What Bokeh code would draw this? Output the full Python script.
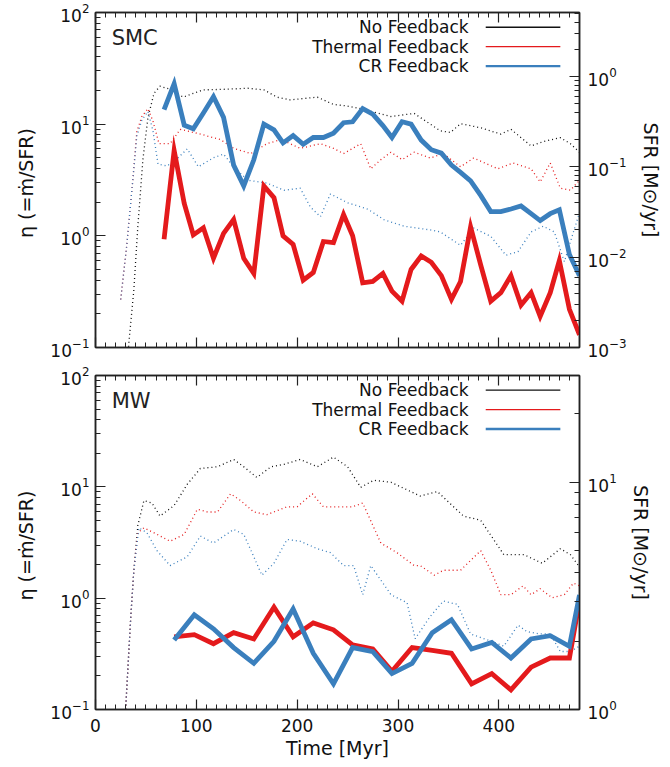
import math
from bokeh.plotting import figure
from bokeh.models import (Range1d, LogAxis, LinearAxis, LogScale, SingleIntervalTicker,
                          FixedTicker, Label)
from bokeh.layouts import column
from bokeh.embed import file_html
from bokeh.resources import INLINE

# ---------------- data ----------------
# SMC: mass loading (thick lines, left axis)
t_smc_eta = [68, 78, 88, 97, 107, 117, 127, 137, 147, 157, 167, 177, 186, 196, 206, 216, 226, 236,
             246, 255, 265, 275, 285, 294, 304, 313, 323, 333, 343, 353, 362, 372, 382, 392, 402,
             412, 422, 432, 441, 451, 460, 470, 480]
eta_smc_cr = [13.5, 23, 9.8, 9.1, 12.6, 17.6, 11.5, 4.3, 2.8, 4.8, 10.0, 8.9, 6.8, 7.9, 6.6, 7.6, 7.6,
              8.3, 10.3, 10.5, 13.8, 12.3, 9.7, 7.6, 10.5, 10.0, 7.2, 5.9, 5.5, 4.3, 3.7, 3.1, 2.3,
              1.65, 1.65, 1.74, 1.85, 1.58, 1.37, 1.58, 1.71, 0.68, 0.44]
eta_smc_th = [0.93, 5.8, 1.95, 1.02, 1.18, 0.63, 1.05, 1.4, 0.63, 0.46, 2.8, 2.2, 1.0, 0.84, 0.40,
              0.47, 0.89, 0.87, 1.55, 1.0, 0.38, 0.39, 0.46, 0.32, 0.26, 0.50, 0.66, 0.58, 0.44,
              0.27, 0.39, 1.2, 0.55, 0.26, 0.31, 0.44, 0.24, 0.31, 0.19, 0.31, 0.60, 0.22, 0.13]

# SMC: SFR (dotted lines, right axis)
t_smc_sfr_nofb = [31, 33, 38, 42, 47, 52, 58, 64, 74, 87, 97, 107, 127, 151, 167, 180, 193, 220, 236,
                  250, 263, 273, 293, 316, 342, 352, 362, 382, 402, 412, 432, 444, 461, 471, 480]
sfr_smc_nofb = [0.0005, 0.0011, 0.0043, 0.022, 0.12, 0.35, 0.65, 0.78, 0.72, 0.59, 0.65, 0.71, 0.72,
                0.74, 0.71, 0.59, 0.55, 0.59, 0.49, 0.47, 0.44, 0.41, 0.36, 0.39, 0.25, 0.24, 0.30,
                0.27, 0.23, 0.26, 0.17, 0.19, 0.21, 0.18, 0.145]
t_smc_sfr_th = [25, 31, 37, 41, 46, 52, 57, 63, 74, 84, 104, 124, 137, 154, 170, 184, 203, 223, 236,
                246, 263, 273, 283, 293, 304, 316, 332, 345, 362, 375, 399, 414, 432, 441, 451, 461,
                471, 480]
sfr_smc_th = [0.0034, 0.0135, 0.071, 0.245, 0.36, 0.44, 0.32, 0.18, 0.18, 0.26, 0.23, 0.20, 0.16,
              0.14, 0.18, 0.20, 0.16, 0.18, 0.16, 0.14, 0.18, 0.095, 0.12, 0.145, 0.12, 0.145, 0.125,
              0.14, 0.10, 0.125, 0.095, 0.11, 0.095, 0.068, 0.11, 0.058, 0.055, 0.071]
t_smc_sfr_cr = [25, 31, 37, 41, 46, 52, 57, 62, 71, 81, 91, 102, 117, 127, 137, 151, 170, 187, 203,
                213, 223, 233, 250, 270, 286, 306, 332, 342, 362, 375, 392, 407, 419, 432, 444, 455,
                465, 474, 480]
sfr_smc_cr = [0.0034, 0.0135, 0.071, 0.22, 0.33, 0.41, 0.25, 0.107, 0.102, 0.123, 0.158, 0.10,
              0.126, 0.138, 0.10, 0.071, 0.066, 0.055, 0.058, 0.036, 0.028, 0.050, 0.040, 0.034,
              0.026, 0.022, 0.020, 0.019, 0.0135, 0.021, 0.017, 0.0105, 0.0115, 0.019, 0.022,
              0.019, 0.0089, 0.019, 0.031]

# MW: mass loading (thick lines, left axis)
t_mw_eta = [78, 98, 117, 137, 157, 177, 196, 216, 236, 255, 275, 294, 314, 334, 353, 373, 393, 412,
            432, 451, 470, 480]
eta_mw_th = [0.45, 0.47, 0.39, 0.49, 0.43, 0.83, 0.45, 0.60, 0.52, 0.38, 0.35, 0.22, 0.36, 0.34,
             0.32, 0.17, 0.21, 0.15, 0.24, 0.29, 0.29, 0.95]
eta_mw_cr = [0.42, 0.71, 0.53, 0.36, 0.26, 0.41, 0.80, 0.32, 0.17, 0.36, 0.33, 0.21, 0.26, 0.49,
             0.64, 0.35, 0.40, 0.29, 0.43, 0.46, 0.37, 1.07]

# MW: SFR (dotted lines, right axis)
t_mw_sfr_nofb = [29, 35, 38, 42, 48, 56, 64, 78, 91, 104, 121, 137, 147, 160, 174, 187, 203, 220,
                 236, 250, 263, 276, 293, 322, 339, 365, 382, 405, 425, 443, 461, 471, 479]
sfr_mw_nofb = [0.85, 2.57, 4.07, 6.46, 8.3, 8.1, 7.1, 7.9, 9.8, 11.5, 11.7, 12.6, 11.7, 10.5, 11.7,
               12.0, 12.6, 11.7, 12.9, 11.7, 9.5, 10.2, 10.0, 8.7, 9.1, 7.1, 6.8, 4.8, 4.8, 4.4,
               5.1, 4.8, 4.3]
t_mw_sfr_th = [29, 35, 38, 42, 48, 61, 74, 88, 101, 111, 121, 134, 144, 157, 170, 190, 200, 215,
               226, 236, 243, 255, 265, 283, 299, 316, 322, 336, 345, 362, 382, 392, 402, 412, 424,
               432, 441, 453, 465, 474, 480]
sfr_mw_th = [0.85, 2.57, 4.07, 6.0, 6.3, 5.9, 5.5, 5.9, 7.6, 7.4, 7.4, 8.9, 8.3, 7.4, 7.2, 7.8, 7.8,
             8.9, 7.8, 7.8, 7.8, 7.8, 8.1, 5.4, 4.9, 4.3, 4.3, 3.9, 4.1, 4.1, 5.0, 4.1, 3.2, 3.2,
             3.5, 3.2, 3.4, 3.1, 3.2, 3.6, 3.5]
t_mw_sfr_cr = [29, 35, 38, 43, 51, 61, 74, 91, 104, 117, 137, 147, 157, 165, 177, 190, 203, 220,
               233, 246, 256, 265, 273, 293, 309, 317, 332, 345, 359, 372, 392, 405, 419, 428, 441,
               451, 461, 471, 480]
sfr_mw_cr = [0.85, 2.57, 4.07, 6.3, 6.0, 5.0, 4.3, 4.7, 5.8, 5.4, 6.2, 5.9, 4.7, 3.9, 4.4, 5.6, 5.5,
             5.1, 4.9, 4.3, 4.3, 3.2, 4.3, 3.2, 2.95, 2.05, 2.57, 3.0, 2.9, 2.15, 2.0, 1.9, 2.35,
             2.2, 2.15, 2.15, 1.8, 1.8, 1.9]

legend_labels = ["No Feedback", "Thermal Feedback", "CR Feedback"]
panel_names = ["SMC", "MW"]
eta_ticks = [0.1, 1, 10, 100]
sfr_ticks_smc = [0.001, 0.01, 0.1, 1]
sfr_ticks_mw = [1, 10]

# ---------------- style ----------------
BLACK = "#111111"
RED = "#e41a1c"
BLUE = "#3a7fbd"
FONT = "DejaVu Sans"
X_MAX = 480

W = 670
LEFT = 95
RIGHT = W - 579


def frac_y(frac, lo, hi):
    """value on a log range at a fraction of the frame height from the top"""
    a, b = math.log10(lo), math.log10(hi)
    return 10 ** (b - frac * (b - a))


def log_minor(majors):
    out = []
    for m in majors:
        for k in range(2, 10):
            out.append(m * k)
    return out


def style_axis(ax, labels=True):
    ax.major_tick_in = 10
    ax.major_tick_out = 0
    ax.minor_tick_in = 5
    ax.minor_tick_out = 0
    ax.axis_line_color = "#222222"
    ax.axis_line_width = 1.5
    ax.major_tick_line_color = "#222222"
    ax.minor_tick_line_color = "#222222"
    ax.major_tick_line_width = 1.2
    ax.minor_tick_line_width = 1.0
    ax.major_label_text_font = FONT
    ax.major_label_text_color = "#111111"
    ax.axis_label_text_font = FONT
    ax.axis_label_text_font_style = "normal"
    ax.axis_label_text_color = "#111111"
    if labels:
        ax.major_label_text_font_size = "17px"
        ax.axis_label_text_font_size = "19px"
    else:
        ax.major_label_text_font_size = "2px"
        ax.major_label_text_color = None
        ax.major_label_standoff = 0


def make_panel(name, height, border_top, border_bottom, sfr_range, sfr_ticks, eta_series,
               sfr_series, bottom_labels):
    p = figure(width=W, height=height, output_backend="svg", toolbar_location=None,
               x_range=Range1d(0, X_MAX), y_range=Range1d(0.1, 100), y_axis_type="log",
               min_border_left=LEFT, min_border_right=RIGHT,
               min_border_top=border_top, min_border_bottom=border_bottom)
    p.xgrid.visible = False
    p.ygrid.visible = False
    p.outline_line_color = "#222222"
    p.outline_line_width = 1.5
    p.background_fill_color = "white"
    p.border_fill_color = "white"

    p.xaxis.ticker = SingleIntervalTicker(interval=100, num_minor_ticks=10)
    for ax in p.xaxis:
        style_axis(ax, labels=bottom_labels)
        if bottom_labels:
            ax.axis_label = "Time [Myr]"
            ax.major_label_standoff = 9
            ax.axis_label_standoff = 2
    top = LinearAxis(ticker=SingleIntervalTicker(interval=100, num_minor_ticks=10))
    style_axis(top, labels=False)
    p.add_layout(top, "above")

    p.yaxis.ticker = FixedTicker(ticks=eta_ticks, minor_ticks=log_minor(eta_ticks[:-1]))
    for ax in p.yaxis:
        style_axis(ax)
        ax.axis_label = "η  (=ṁ/SFR)"
        ax.major_label_standoff = 6
        ax.axis_label_standoff = 10

    p.extra_y_ranges = {"sfr": Range1d(*sfr_range)}
    p.extra_y_scales = {"sfr": LogScale()}
    r_ax = LogAxis(y_range_name="sfr",
                   ticker=FixedTicker(ticks=sfr_ticks, minor_ticks=log_minor(sfr_ticks)))
    style_axis(r_ax)
    r_ax.axis_label = "SFR [M⊙/yr]"
    r_ax.major_label_standoff = 8
    r_ax.axis_label_standoff = 10
    p.add_layout(r_ax, "right")

    colors = [BLACK, RED, BLUE]
    # dotted SFR curves
    for (tx, vals), c in zip(sfr_series, colors):
        p.line(tx, vals, y_range_name="sfr", line_color=c, line_width=1.3, line_dash="1 3")
    # thick mass-loading curves (thermal, CR)
    for (tx, vals), c in zip(eta_series, [RED, BLUE]):
        p.line(tx, vals, line_color=c, line_width=4.8, line_join="miter")

    # panel name
    p.add_layout(Label(x=16, y=frac_y(0.075, 0.1, 100), text=name, text_font=FONT,
                       text_font_size="21px", text_baseline="middle", text_color="#222222"))
    # legend
    fracs = [0.044, 0.102, 0.160]
    for lab, c, f, lw in zip(legend_labels, colors, fracs, [1.3, 1.3, 2.4]):
        yy = frac_y(f, 0.1, 100)
        p.add_layout(Label(x=370, y=yy, text=lab, text_font=FONT, text_font_size="17px",
                           text_align="right", text_baseline="middle", text_color="#111111"))
        p.line([387, 461], [yy, yy], line_color=c, line_width=lw)
    return p


p1 = make_panel(panel_names[0], 361, 12, 14, (0.001, 5.1), sfr_ticks_smc,
                [(t_smc_eta, eta_smc_th), (t_smc_eta, eta_smc_cr)],
                [(t_smc_sfr_nofb, sfr_smc_nofb), (t_smc_sfr_th, sfr_smc_th),
                 (t_smc_sfr_cr, sfr_smc_cr)], False)
p2 = make_panel(panel_names[1], 406, 14, 58, (1.0, 29.5), sfr_ticks_mw,
                [(t_mw_eta, eta_mw_th), (t_mw_eta, eta_mw_cr)],
                [(t_mw_sfr_nofb, sfr_mw_nofb), (t_mw_sfr_th, sfr_mw_th),
                 (t_mw_sfr_cr, sfr_mw_cr)], True)

layout = column(p1, p2)
open("out.html", "w").write(file_html(layout, INLINE))
